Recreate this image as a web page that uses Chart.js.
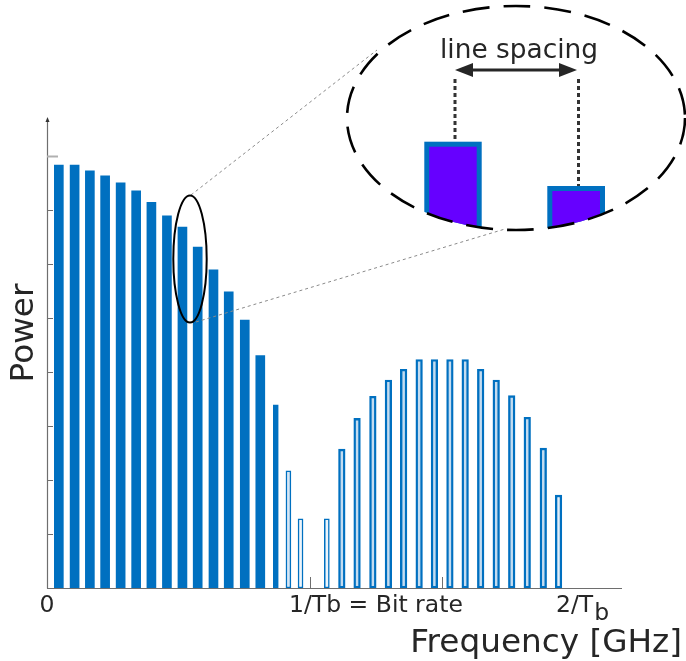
<!DOCTYPE html>
<html><head><meta charset="utf-8">
<script src="https://cdn.jsdelivr.net/npm/chart.js@4"></script>
<style>html,body{margin:0;padding:0;background:#fff;}canvas{display:block}</style>
</head><body>
<canvas id="c" width="686" height="661"></canvas>
<script>
// Frequencies in units of the bit rate (1/Tb), power in arbitrary units
const solidFreq  = [0.045, 0.105, 0.163, 0.221, 0.280, 0.339, 0.397, 0.456, 0.515, 0.573, 0.633, 0.691, 0.752, 0.811];
const solidPower = [7.83, 7.83, 7.72, 7.63, 7.50, 7.35, 7.14, 6.89, 6.68, 6.31, 5.89, 5.48, 4.96, 4.30];
const thinFreq   = [0.870, 0.918, 0.964, 1.064];
const thinPower  = [3.39, 2.17, 1.28, 1.28];
const sideFreq   = [1.121, 1.179, 1.239, 1.298, 1.356, 1.415, 1.473, 1.532, 1.590, 1.649, 1.708, 1.767, 1.826, 1.887, 1.945];
const sidePower  = [2.57, 3.14, 3.55, 3.85, 4.05, 4.23, 4.23, 4.23, 4.23, 4.05, 3.85, 3.56, 3.16, 2.59, 1.72];
const yTickValues = [1, 2, 3, 4, 5, 6, 7, 8];
const xTickValues = [1, 1.5];
const xLabelValues = [0, 1, 2];
const xLabelTexts  = ['0', '1/Tb = Bit rate', '2/T'];
const xLabelSubs   = ['', '', 'b'];
const xTitle = 'Frequency [GHz]';
const yTitle = 'Power';
const insetTitle = 'line spacing';

const BLUE = '#0070C0';
const TEXT = '#262626';
const FONT = '"DejaVu Sans", Verdana, sans-serif';

const thinFill = ['#0070C0', '#d6e7f5', '#eef5fb', '#eef5fb'];
const sideFill = sidePower.map((v, i) => (i === sidePower.length - 1 ? '#e3eef8' : '#c4dcf0'));

const overlay = {
  id: 'overlay',
  afterDatasetsDraw(chart) {
    const ctx = chart.ctx;
    const xs = chart.scales.x, ys = chart.scales.y;
    const ca = chart.chartArea;
    const x0 = xs.getPixelForValue(0), y0 = ys.getPixelForValue(0);
    ctx.save();
    // axes
    ctx.strokeStyle = '#6e6e6e';
    ctx.lineWidth = 1.2;
    ctx.beginPath(); ctx.moveTo(x0 + 0.5, y0 + 0.5); ctx.lineTo(x0 + 0.5, ca.top + 2); ctx.stroke();
    ctx.beginPath(); ctx.moveTo(x0, y0 + 0.5); ctx.lineTo(ca.right, y0 + 0.5); ctx.stroke();
    ctx.fillStyle = '#333';
    ctx.beginPath(); ctx.moveTo(x0 + 0.5, ca.top - 1); ctx.lineTo(x0 - 1.5, ca.top + 4); ctx.lineTo(x0 + 2.5, ca.top + 4); ctx.closePath(); ctx.fill();
    // y ticks (inward)
    yTickValues.forEach((v, i) => {
      const py = Math.round(ys.getPixelForValue(v)) + 0.5;
      ctx.beginPath();
      if (i === yTickValues.length - 1) { ctx.strokeStyle = '#b0b0b0'; ctx.lineWidth = 2; ctx.moveTo(x0, py); ctx.lineTo(x0 + 11, py); }
      else { ctx.strokeStyle = '#6e6e6e'; ctx.lineWidth = 1; ctx.moveTo(x0, py); ctx.lineTo(x0 + 6, py); }
      ctx.stroke();
    });
    // x ticks (inward)
    ctx.strokeStyle = '#6e6e6e'; ctx.lineWidth = 1;
    xTickValues.forEach(v => {
      const px = Math.round(xs.getPixelForValue(v)) + 0.5;
      ctx.beginPath(); ctx.moveTo(px, y0); ctx.lineTo(px, y0 - 11); ctx.stroke();
    });
    // x labels
    ctx.fillStyle = TEXT;
    ctx.font = '23.5px ' + FONT;
    ctx.textBaseline = 'alphabetic';
    xLabelValues.forEach((v, i) => {
      const px = xs.getPixelForValue(v);
      const t = xLabelTexts[i];
      let left;
      if (i === 0) left = px - ctx.measureText(t).width / 2;
      else if (i === 1) left = px - 21;
      else left = px - 17;
      ctx.textAlign = 'left';
      ctx.fillText(t, left, y0 + 24);
      if (xLabelSubs[i]) ctx.fillText(xLabelSubs[i], left + ctx.measureText(t).width + 1, y0 + 32);
    });
    // axis titles
    ctx.font = '32.7px ' + FONT;
    ctx.textAlign = 'right';
    ctx.fillText(xTitle, 682, 652);
    ctx.save();
    ctx.translate(33, 333);
    ctx.rotate(-Math.PI / 2);
    ctx.textAlign = 'center';
    ctx.fillText(yTitle, 0, 0);
    ctx.restore();

    // connector lines
    ctx.strokeStyle = '#8a8a8a'; ctx.lineWidth = 1; ctx.setLineDash([3, 3]);
    ctx.beginPath(); ctx.moveTo(191, 195); ctx.lineTo(377, 50); ctx.stroke();
    ctx.beginPath(); ctx.moveTo(196, 322); ctx.lineTo(505, 229); ctx.stroke();
    ctx.setLineDash([]);
    // small ellipse
    ctx.strokeStyle = '#000'; ctx.lineWidth = 2;
    ctx.beginPath(); ctx.ellipse(190, 259, 16.7, 63.5, 0, 0, Math.PI * 2); ctx.stroke();

    // inset
    const cx = 516, cy = 118, rx = 169, ry = 112;
    ctx.save();
    ctx.beginPath(); ctx.ellipse(cx, cy, rx, ry, 0, 0, Math.PI * 2); ctx.clip();
    const insetBar = (l, t, w) => {
      ctx.fillStyle = BLUE; ctx.fillRect(l, t, w, 200);
      ctx.fillStyle = '#6600FF'; ctx.fillRect(l + 5, t + 5, w - 10, 200);
    };
    insetBar(424.3, 141.7, 57.4);
    insetBar(547.3, 186, 57.7);
    ctx.restore();
    ctx.strokeStyle = '#000'; ctx.lineWidth = 2.6; ctx.setLineDash([27, 14]);
    ctx.beginPath(); ctx.ellipse(cx, cy, rx, ry, 0, 0, Math.PI * 2); ctx.stroke();
    // dotted verticals
    ctx.strokeStyle = '#333'; ctx.lineWidth = 3; ctx.setLineDash([4, 3]);
    ctx.beginPath(); ctx.moveTo(455, 79); ctx.lineTo(455, 141); ctx.stroke();
    ctx.beginPath(); ctx.moveTo(578.5, 79); ctx.lineTo(578.5, 186); ctx.stroke();
    ctx.setLineDash([]);
    // arrow
    ctx.strokeStyle = '#262626'; ctx.fillStyle = '#262626'; ctx.lineWidth = 3.2;
    ctx.beginPath(); ctx.moveTo(468, 70); ctx.lineTo(564, 70); ctx.stroke();
    ctx.beginPath(); ctx.moveTo(455, 70); ctx.lineTo(473, 63); ctx.lineTo(473, 77); ctx.closePath(); ctx.fill();
    ctx.beginPath(); ctx.moveTo(577, 70); ctx.lineTo(559, 63); ctx.lineTo(559, 77); ctx.closePath(); ctx.fill();
    // inset title
    ctx.fillStyle = TEXT;
    ctx.font = '26.4px ' + FONT;
    ctx.textAlign = 'center';
    ctx.fillText(insetTitle, 519, 58);
    ctx.restore();
  }
};

const pts = (f, p) => f.map((v, i) => ({ x: v, y: p[i] }));

new Chart(document.getElementById('c').getContext('2d'), {
  type: 'bar',
  data: {
    datasets: [
      { data: pts(solidFreq, solidPower), backgroundColor: BLUE, borderWidth: 0, barThickness: 9, grouped: false },
      { data: pts(thinFreq, thinPower), backgroundColor: thinFill, borderColor: BLUE, borderWidth: 1.5, borderSkipped: false, barThickness: 5, grouped: false },
      { data: pts(sideFreq, sidePower), backgroundColor: sideFill, borderColor: BLUE, borderWidth: 2.4, borderSkipped: false, barThickness: 6.6, grouped: false }
    ]
  },
  options: {
    responsive: false,
    animation: false,
    devicePixelRatio: 1,
    layout: { padding: { left: 47, right: 64, top: 118, bottom: 73 } },
    plugins: { legend: { display: false }, tooltip: { enabled: false } },
    scales: {
      x: { type: 'linear', min: 0, max: 2.1863, offset: false, display: false },
      y: { type: 'linear', min: 0, max: 8.7, display: false }
    }
  },
  plugins: [overlay]
});
</script>
</body></html>
